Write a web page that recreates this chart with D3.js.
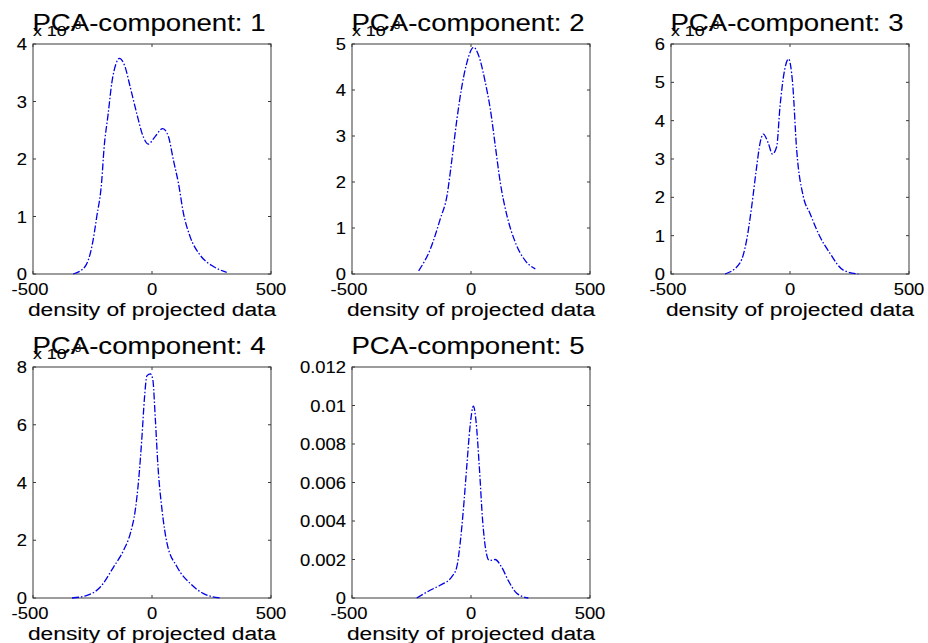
<!DOCTYPE html>
<html>
<head>
<meta charset="utf-8">
<script src="https://cdn.jsdelivr.net/npm/d3@7"></script>
<style>
  html, body { margin: 0; padding: 0; background: #fff; }
  svg { display: block; }
  text { font-family: "Liberation Sans", Arial, Helvetica, sans-serif; fill: #000; stroke: #000; stroke-width: 0.1px; }
</style>
</head>
<body>
<svg id="chart" width="928" height="643"></svg>
<script>
// Kernel density of the data projected onto each principal component.
const componentTitles = ["PCA-component: 1", "PCA-component: 2", "PCA-component: 3",
                         "PCA-component: 4", "PCA-component: 5"];
const xLabel = "density of projected data";
const xTicks = [-500, 0, 500];

const pc1Pos = [-331, -281, -253, -232, -211, -202, -184, -169, -151, -137, -113, -92, -64, -37, -16, 13, 45, 69, 90, 111, 132, 160, 202, 258, 314];
const pc1Density = [0, 0.00013, 0.00047, 0.0010, 0.00163, 0.00216, 0.00279, 0.00332, 0.00366, 0.00375, 0.00360, 0.00326, 0.00279, 0.00239, 0.00226, 0.00239, 0.00253, 0.00239, 0.00198, 0.00158, 0.00106, 0.00065, 0.00033, 0.00013, 0.00003];

const pc2Pos = [-220, -171, -129, -101, -80, -59, -38, -17, 11, 32, 60, 81, 102, 123, 151, 186, 228, 270];
const pc2Density = [0.00007, 0.00054, 0.0012, 0.0017, 0.0025, 0.00337, 0.00409, 0.0046, 0.00493, 0.00475, 0.00417, 0.00359, 0.00279, 0.00199, 0.00127, 0.00069, 0.00029, 0.00011];

const pc3Pos = [-273, -210, -182, -161, -140, -126, -112, -91, -74, -56, -42, -25, -6, 11, 28, 56, 84, 126, 168, 224, 287];
const pc3Density = [0, 0.00029, 0.00089, 0.00176, 0.0028, 0.00341, 0.00365, 0.00341, 0.00313, 0.00332, 0.00437, 0.00524, 0.00561, 0.00498, 0.00324, 0.00202, 0.00158, 0.00097, 0.00054, 0.0001, 0];

const pc4Pos = [-336, -273, -217, -161, -119, -91, -70, -56, -42, -32, -21, -7, 3, 14, 25, 42, 63, 105, 161, 217, 287];
const pc4Density = [0, 0.00009, 0.00038, 0.00108, 0.00166, 0.00224, 0.00306, 0.0041, 0.00561, 0.00689, 0.0077, 0.00776, 0.00759, 0.0062, 0.00457, 0.00306, 0.0019, 0.00108, 0.0005, 0.00015, 0];

const pc5Pos = [-228, -172, -130, -81, -60, -46, -32, -18, -4, 10, 21, 35, 49, 62, 77, 101, 129, 157, 192, 241];
const pc5Density = [0, 0.0004, 0.00066, 0.0011, 0.0016, 0.0028, 0.0046, 0.0068, 0.0089, 0.00997, 0.0092, 0.0068, 0.004, 0.0025, 0.00195, 0.002, 0.0016, 0.0009, 0.00025, 0];

// y tick values per panel; panels 1-4 are labelled in units of 10^-3
const pc1YTicks = [0, 0.001, 0.002, 0.003, 0.004];
const pc2YTicks = [0, 0.001, 0.002, 0.003, 0.004, 0.005];
const pc3YTicks = [0, 0.001, 0.002, 0.003, 0.004, 0.005, 0.006];
const pc4YTicks = [0, 0.002, 0.004, 0.006, 0.008];
const pc5YTicks = [0, 0.002, 0.004, 0.006, 0.008, 0.01, 0.012];
const pc5YTickLabels = ["0", "0.002", "0.004", "0.006", "0.008", "0.01", "0.012"];

const milli = v => String(Math.round(v * 1e3));
const panels = [
  { title: componentTitles[0], pos: pc1Pos, dens: pc1Density, yTicks: pc1YTicks, labels: pc1YTicks.map(milli), exp: true, col: 0, row: 0 },
  { title: componentTitles[1], pos: pc2Pos, dens: pc2Density, yTicks: pc2YTicks, labels: pc2YTicks.map(milli), exp: true, col: 1, row: 0 },
  { title: componentTitles[2], pos: pc3Pos, dens: pc3Density, yTicks: pc3YTicks, labels: pc3YTicks.map(milli), exp: true, col: 2, row: 0 },
  { title: componentTitles[3], pos: pc4Pos, dens: pc4Density, yTicks: pc4YTicks, labels: pc4YTicks.map(milli), exp: true, col: 0, row: 1 },
  { title: componentTitles[4], pos: pc5Pos, dens: pc5Density, yTicks: pc5YTicks, labels: pc5YTickLabels, exp: false, col: 1, row: 1 }
];

// subplot grid geometry
const colLeft = [33, 352, 671];
const rowTop = [44, 367];
const axW = 238;
const axH = [230, 231];

const svg = d3.select("#chart");
const frameColor = "#3a3a3a";

// text with slight horizontal stretch, like the printed figure fonts
function label(g, x, y, str, size, anchor, sx) {
  return g.append("text")
    .attr("transform", `translate(${x},${y}) scale(${sx},1)`)
    .attr("text-anchor", anchor)
    .style("font-size", size + "px")
    .text(str);
}

panels.forEach(p => {
  const left = colLeft[p.col], top = rowTop[p.row], h = axH[p.row];
  const g = svg.append("g").attr("transform", `translate(${left},${top})`);

  const x = d3.scaleLinear().domain([-500, 500]).range([0, axW]);
  const y = d3.scaleLinear().domain([0, p.yTicks[p.yTicks.length - 1]]).range([h, 0]);

  // axes box
  g.append("rect").attr("x", 0).attr("y", 0).attr("width", axW).attr("height", h)
    .attr("fill", "none").attr("stroke", frameColor).attr("stroke-width", 1);

  // inward ticks on all four sides
  const tl = 3;
  xTicks.forEach(t => {
    g.append("line").attr("x1", x(t)).attr("x2", x(t)).attr("y1", h).attr("y2", h - tl).attr("stroke", frameColor);
    g.append("line").attr("x1", x(t)).attr("x2", x(t)).attr("y1", 0).attr("y2", tl).attr("stroke", frameColor);
  });
  p.yTicks.forEach(t => {
    g.append("line").attr("x1", 0).attr("x2", tl).attr("y1", y(t)).attr("y2", y(t)).attr("stroke", frameColor);
    g.append("line").attr("x1", axW).attr("x2", axW - tl).attr("y1", y(t)).attr("y2", y(t)).attr("stroke", frameColor);
  });

  // tick labels
  xTicks.forEach(t => {
    label(g, x(t) - (t < 0 ? 3 : 0), h + 21, String(t), 16, "middle", 1.15);
  });
  p.yTicks.forEach((t, i) => {
    label(g, -6, y(t) + 6, p.labels[i], 16, "end", 1.15);
  });

  // x label
  label(g, axW / 2, h + 42, xLabel, 19, "middle", 1.2);

  // exponent multiplier above the y axis
  if (p.exp) {
    label(g, 0, -8, "x 10", 15.5, "start", 1.15);
    label(g, 38, -15, "-3", 10, "start", 1.15);
  }

  // title
  label(g, axW / 2 - 3, -13, p.title, 23, "middle", 1.2);

  // density curve
  const pts = p.pos.map((v, i) => [v, p.dens[i]]);
  const line = d3.line().x(d => x(d[0])).y(d => y(d[1])).curve(d3.curveMonotoneX);
  g.append("path").datum(pts).attr("d", line)
    .attr("fill", "none").attr("stroke", "#0000e8").attr("stroke-width", 1.3)
    .attr("stroke-dasharray", "7,2,1.5,2");
});
</script>
</body>
</html>
